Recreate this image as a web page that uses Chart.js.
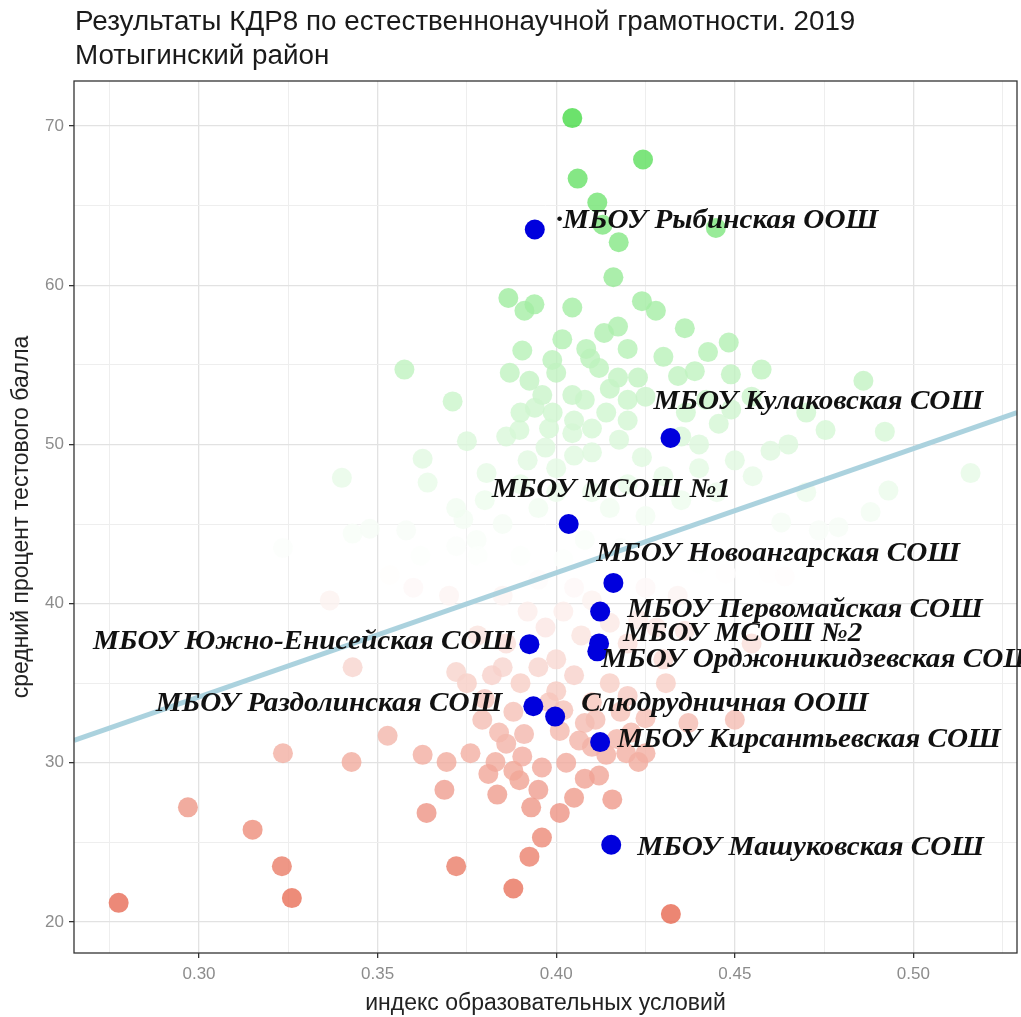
<!DOCTYPE html>
<html>
<head>
<meta charset="utf-8">
<script src="https://cdn.jsdelivr.net/npm/chart.js@4.4.0/dist/chart.umd.min.js"></script>
<style>
  html, body { margin: 0; padding: 0; background: #fff; }
  #wrap { width: 1021px; height: 1017px; }
</style>
</head>
<body>
<div id="wrap"><canvas id="scatterChart"></canvas></div>
<script>
// Выделенные школы района
var schoolNames = ['·МБОУ Рыбинская ООШ', 'МБОУ Кулаковская СОШ', 'МБОУ МСОШ №1', 'МБОУ Новоангарская СОШ',
  'МБОУ Первомайская СОШ', 'МБОУ МСОШ №2', 'МБОУ Орджоникидзевская СОШ', 'МБОУ Южно-Енисейская СОШ',
  'МБОУ Раздолинская СОШ', 'Слюдрудничная ООШ', 'МБОУ Кирсантьевская СОШ', 'МБОУ Машуковская СОШ'];
var schoolX = [0.394, 0.432, 0.4035, 0.416, 0.4123, 0.412, 0.4115, 0.3925, 0.3936, 0.3997, 0.4123, 0.4154];
var schoolY = [63.5, 50.4, 45.0, 41.3, 39.5, 37.5, 37.0, 37.45, 33.55, 32.9, 31.3, 24.85];

// Остальные школы края
var otherX = [0.4045, 0.4243, 0.406, 0.4115, 0.413, 0.4175, 0.4447, 0.416, 0.3866, 0.3911,
  0.3939, 0.4045, 0.424, 0.4279, 0.436, 0.4483, 0.4575, 0.4134, 0.4173, 0.4017,
  0.3989, 0.4084, 0.3905, 0.3961, 0.4045, 0.4173, 0.4229, 0.4341, 0.4388, 0.4425,
  0.4489, 0.3575, 0.371, 0.387, 0.3925, 0.375, 0.386, 0.3626, 0.364, 0.340,
  0.3805, 0.392, 0.4095, 0.343, 0.3478, 0.3235, 0.358, 0.362, 0.3534, 0.3366,
  0.374, 0.372, 0.3777, 0.394, 0.399, 0.408, 0.414, 0.420, 0.3897, 0.397,
  0.4045, 0.410, 0.4176, 0.424, 0.4363, 0.442, 0.449, 0.4547, 0.486, 0.492,
  0.470, 0.4754, 0.4455, 0.460, 0.516, 0.493, 0.488, 0.479, 0.4735, 0.463,
  0.4595, 0.464, 0.4475, 0.400, 0.412, 0.420, 0.415, 0.425, 0.430, 0.405,
  0.398, 0.410, 0.420, 0.435, 0.440, 0.410, 0.420, 0.430, 0.440, 0.450,
  0.415, 0.425, 0.435, 0.445, 0.455, 0.465, 0.470, 0.372, 0.380, 0.390,
  0.395, 0.400, 0.385, 0.378, 0.365, 0.360, 0.400, 0.405, 0.390, 0.405,
  0.410, 0.402, 0.397, 0.407, 0.415, 0.420, 0.400, 0.395, 0.405, 0.415,
  0.420, 0.410, 0.400, 0.390, 0.385, 0.380, 0.388, 0.398, 0.418, 0.425,
  0.408, 0.382, 0.375, 0.386, 0.392, 0.410, 0.402, 0.395, 0.385, 0.378,
  0.430, 0.428, 0.434, 0.440, 0.425, 0.418, 0.408, 0.390, 0.380, 0.370,
  0.3693, 0.376, 0.3687, 0.3835, 0.393, 0.401, 0.405, 0.4157, 0.396, 0.3925,
  0.372, 0.388, 0.4321, 0.383, 0.3897, 0.396, 0.4028, 0.412, 0.423, 0.4064,
  0.4196, 0.3793, 0.386, 0.3905, 0.401, 0.411, 0.421, 0.437, 0.3235, 0.3427,
  0.3528, 0.3626, 0.3637, 0.2969, 0.315, 0.3232, 0.326, 0.343, 0.372, 0.2775,
  0.384, 0.4307, 0.450, 0.4547, 0.423, 0.436, 0.425, 0.388, 0.391, 0.381,
  0.395, 0.408, 0.414, 0.417, 0.410, 0.402];
var otherY = [70.5, 67.9, 66.7, 65.2, 63.8, 62.7, 63.6, 60.5, 59.2, 58.4,
  58.8, 58.6, 59.0, 58.4, 57.3, 56.4, 54.7, 57.0, 57.4, 56.6,
  55.3, 56.0, 55.9, 53.1, 53.1, 54.2, 54.2, 54.3, 54.6, 55.8,
  54.4, 54.7, 52.7, 54.5, 54.0, 50.2, 50.5, 49.1, 47.6, 47.9,
  48.2, 49.0, 55.4, 44.4, 44.7, 43.5, 44.6, 43.0, 41.8, 40.2,
  45.3, 43.6, 44.0, 52.3, 52.0, 52.8, 52.0, 52.8, 50.9, 49.8,
  50.7, 49.5, 50.3, 49.2, 52.0, 52.8, 52.2, 53.0, 54.0, 50.8,
  52.0, 50.9, 51.3, 49.6, 48.2, 47.1, 45.75, 44.8, 44.6, 45.1,
  41.9, 41.7, 41.9, 54.5, 54.8, 56.0, 53.5, 53.0, 55.5, 51.5,
  51.0, 51.0, 51.5, 50.5, 50.0, 47.0, 47.5, 48.0, 48.5, 49.0,
  46.0, 45.5, 46.5, 47.0, 48.0, 50.0, 47.0, 46.0, 46.5, 47.5,
  46.0, 47.0, 45.0, 43.0, 42.0, 41.0, 48.5, 49.3, 52.0, 41.0,
  40.2, 39.5, 38.5, 38.0, 38.8, 37.5, 36.5, 36.0, 35.5, 35.0,
  34.2, 33.8, 34.5, 35.0, 36.0, 34.0, 33.2, 33.8, 33.2, 32.8,
  32.5, 35.5, 35.0, 37.5, 39.5, 42.0, 42.8, 41.5, 40.5, 38.0,
  36.5, 38.5, 40.5, 42.5, 41.0, 43.5, 44.0, 43.0, 42.0, 40.5,
  30.05, 30.6, 28.3, 28.0, 27.2, 26.85, 27.8, 27.7, 25.3, 24.1,
  23.5, 22.1, 20.5, 30.05, 28.9, 29.7, 30.0, 29.2, 30.05, 31.4,
  30.6, 32.7, 31.2, 30.4, 32.0, 32.7, 31.9, 32.5, 30.6, 30.05,
  31.7, 30.5, 26.85, 27.2, 25.8, 23.5, 21.5, 36.0, 35.7, 21.2,
  31.9, 35.0, 32.7, 37.5, 39.0, 38.3, 30.6, 29.5, 31.8, 29.3,
  28.3, 29.0, 30.5, 31.5, 31.0, 33.3];

// Линия тренда (по снимку)
var trendX = [0.265, 0.529];
var trendY = [31.4, 52.0];

// Оси
var xGrid = [0.275, 0.30, 0.325, 0.35, 0.375, 0.40, 0.425, 0.45, 0.475, 0.50, 0.525];
var yGrid = [20, 25, 30, 35, 40, 45, 50, 55, 60, 65, 70];
var xTickLabels = ['0.30', '0.35', '0.40', '0.45', '0.50'];
var yTickLabels = ['20', '30', '40', '50', '60', '70'];

// Смещения подписей относительно точки (пиксели) и выравнивание
var labelOffsets = [[21, -8, 'left'], [-17, -36, 'left'], [-77, -34, 'left'], [-17, -29, 'left'],
  [27, -2, 'left'], [24, -9, 'left'], [4, 9, 'left'], [-15, -2, 'right'],
  [-31, -2, 'right'], [26, -13, 'left'], [17, -2, 'left'], [26, 3, 'left']];

function toPoints(xs, ys) {
  return xs.map(function (x, i) { return { x: x, y: ys[i] }; });
}

function scoreColor(v) {
  var mid = 42, c, t;
  if (v >= mid) { t = Math.pow(Math.min(1, (v - mid) / 30), 1.3); c = [58, 216, 58]; }
  else { t = Math.min(1, (mid - v) / 22); c = [230, 100, 76]; }
  var r = Math.round(255 + (c[0] - 255) * t);
  var g = Math.round(255 + (c[1] - 255) * t);
  var b = Math.round(255 + (c[2] - 255) * t);
  return 'rgba(' + r + ',' + g + ',' + b + ',0.8)';
}

// текст, растянутый по горизонтали
function drawStretched(ctx, text, x, y, sx, align) {
  ctx.save();
  var w = ctx.measureText(text).width * sx;
  var left = align === 'right' ? x - w : x;
  ctx.translate(left, y);
  ctx.scale(sx, 1);
  ctx.textAlign = 'left';
  ctx.fillText(text, 0, 0);
  ctx.restore();
}

var headerPlugin = {
  id: 'header',
  afterDraw: function (chart) {
    var ctx = chart.ctx;
    ctx.save();
    ctx.fillStyle = '#1a1a1a';
    ctx.font = '27px "Liberation Sans", Arial, sans-serif';
    ctx.textBaseline = 'middle';
    drawStretched(ctx, 'Результаты КДР8 по естественнонаучной грамотности. 2019', 75, 23, 1.03, 'left');
    drawStretched(ctx, 'Мотыгинский район', 75, 57, 1.03, 'left');
    ctx.restore();
  }
};

var panelPlugin = {
  id: 'panel',
  afterDatasetsDraw: function (chart) {
    var ctx = chart.ctx, a = chart.chartArea;
    ctx.save();
    ctx.strokeStyle = '#333333';
    ctx.lineWidth = 1.3;
    ctx.strokeRect(a.left, a.top, a.right - a.left, a.bottom - a.top);

    var meta = chart.getDatasetMeta(0);
    ctx.fillStyle = '#111';
    ctx.font = 'italic bold 27px "Liberation Serif", "Times New Roman", serif';
    ctx.textBaseline = 'middle';
    meta.data.forEach(function (pt, i) {
      var off = labelOffsets[i];
      drawStretched(ctx, schoolNames[i], pt.x + off[0], pt.y + off[1], 1.08, off[2]);
    });
    ctx.restore();
  }
};

var ctx1 = document.getElementById('scatterChart').getContext('2d');
var scatterChart = new Chart(ctx1, {
  type: 'scatter',
  data: {
    datasets: [{
      label: 'Школы района',
      data: toPoints(schoolX, schoolY),
      backgroundColor: '#0000dd',
      borderColor: '#0000dd',
      borderWidth: 0,
      pointRadius: 10,
      order: 0
    }, {
      type: 'line',
      label: 'Тренд',
      data: toPoints(trendX, trendY),
      borderColor: 'rgba(166,208,220,0.95)',
      borderWidth: 5,
      pointRadius: 0,
      showLine: true,
      fill: false,
      order: 1
    }, {
      label: 'Школы',
      data: toPoints(otherX, otherY),
      backgroundColor: function (c) { return c.raw ? scoreColor(c.raw.y) : '#fff'; },
      borderWidth: 0,
      pointRadius: 10,
      order: 2
    }]
  },
  options: {
    responsive: true,
    maintainAspectRatio: false,
    animation: false,
    devicePixelRatio: 1,
    layout: { autoPadding: false, padding: { top: 81, right: 4, left: 0, bottom: 0 } },
    plugins: { legend: { display: false }, tooltip: { enabled: false } },
    scales: {
      x: {
        type: 'linear',
        min: 0.265,
        max: 0.529,
        afterBuildTicks: function (s) { s.ticks = xGrid.map(function (v) { return { value: v }; }); },
        afterFit: function (s) { s.height = 64; s.paddingLeft = 0; s.paddingRight = 0; },
        ticks: {
          autoSkip: false,
          maxRotation: 0,
          color: '#8c8c8c',
          font: { family: '"Liberation Sans", Arial, sans-serif', size: 17 },
          padding: 6,
          callback: function (v) {
            var lab = v.toFixed(2);
            return xTickLabels.indexOf(lab) >= 0 ? lab : '';
          }
        },
        grid: {
          color: function (c) { return xTickLabels.indexOf(c.tick.value.toFixed(2)) >= 0 ? '#e2e2e2' : '#eeeeee'; },
          lineWidth: function (c) { return xTickLabels.indexOf(c.tick.value.toFixed(2)) >= 0 ? 1.3 : 1; },
          tickColor: function (c) { return xTickLabels.indexOf(c.tick.value.toFixed(2)) >= 0 ? '#333' : 'rgba(0,0,0,0)'; },
          tickLength: 5
        },
        border: { display: false },
        title: {
          display: true,
          text: 'индекс образовательных условий',
          color: '#222',
          font: { family: '"Liberation Sans", Arial, sans-serif', size: 23 },
          padding: { top: 0, bottom: 0 }
        }
      },
      y: {
        type: 'linear',
        min: 18.05,
        max: 72.83,
        afterBuildTicks: function (s) { s.ticks = yGrid.map(function (v) { return { value: v }; }); },
        afterFit: function (s) { s.width = 74; s.paddingTop = 0; s.paddingBottom = 0; },
        ticks: {
          autoSkip: false,
          color: '#8c8c8c',
          font: { family: '"Liberation Sans", Arial, sans-serif', size: 17 },
          padding: 5,
          callback: function (v) {
            var lab = String(v);
            return yTickLabels.indexOf(lab) >= 0 ? lab : '';
          }
        },
        grid: {
          color: function (c) { return yTickLabels.indexOf(String(c.tick.value)) >= 0 ? '#e2e2e2' : '#eeeeee'; },
          lineWidth: function (c) { return yTickLabels.indexOf(String(c.tick.value)) >= 0 ? 1.3 : 1; },
          tickColor: function (c) { return yTickLabels.indexOf(String(c.tick.value)) >= 0 ? '#333' : 'rgba(0,0,0,0)'; },
          tickLength: 5
        },
        border: { display: false },
        title: {
          display: true,
          text: 'средний процент тестового балла',
          color: '#222',
          font: { family: '"Liberation Sans", Arial, sans-serif', size: 23 },
          padding: { top: 8, bottom: 0 }
        }
      }
    }
  },
  plugins: [headerPlugin, panelPlugin]
});
</script>
</body>
</html>
